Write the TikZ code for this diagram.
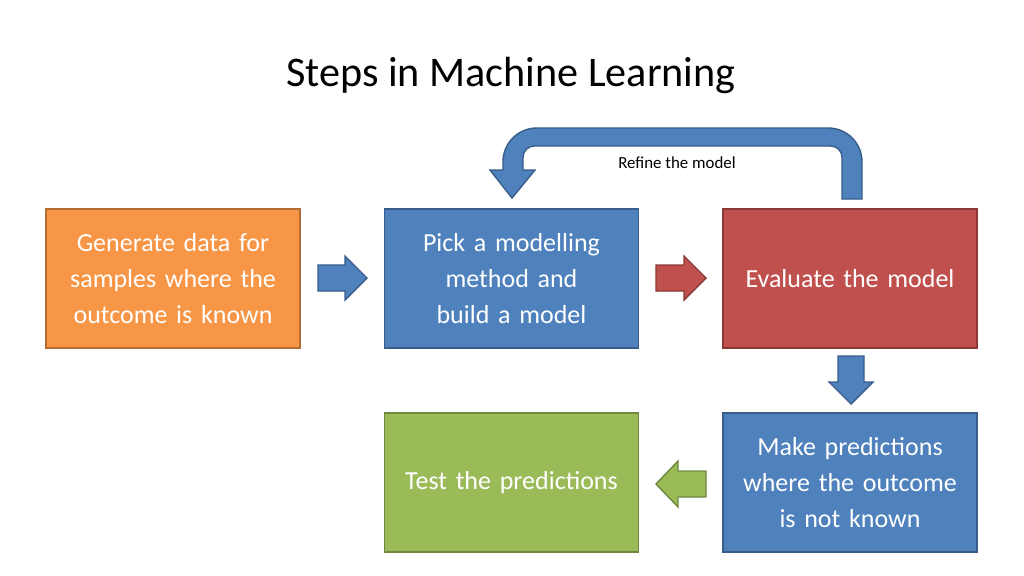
\documentclass[tikz,border=0pt]{standalone}
\usepackage{fontspec}
\setmainfont{Carlito}
\definecolor{bluef}{HTML}{4F81BD}\definecolor{blued}{HTML}{385D8A}
\definecolor{orgf}{HTML}{F79646}\definecolor{orgd}{HTML}{B66D31}
\definecolor{redf}{HTML}{C0504D}\definecolor{redd}{HTML}{8C3836}
\definecolor{grnf}{HTML}{9BBB59}\definecolor{grnd}{HTML}{71893F}
\begin{document}
\begin{tikzpicture}[x=0.025cm,y=-0.025cm,
  box/.style={draw=#1d,fill=#1f,line width=1pt,minimum width=254*0.025cm,minimum height=139*0.025cm,
    text width=235*0.025cm,align=center,text=white,font=\fontsize{18.5}{25.6}\selectfont,inner sep=0pt},
  barrow/.style={draw=#1d,fill=#1f,line width=1pt,line join=miter}]
\useasboundingbox[fill=white] (0,0) rectangle (1024,575);
\node[font=\fontsize{30}{36}\selectfont] (title) at (511,75) {Steps in Machine Learning};
\node[box=org] (gen) at (173,278.5) {Generate data for samples where the outcome is known};
\node[box=blue] (pick) at (511.5,278.5) {Pick a modelling method and build a model};
\node[box=red] (eval) at (850,278.5) {Evaluate the model};
\node[box=grn] (test) at (511.5,482.5) {Test the predictions};
\node[box=blue] (pred) at (850,482.5) {Make predictions where the outcome is not known};
% block arrows
\draw[barrow=blue] (318,265)--(345,265)--(345,256)--(367,278)--(345,300)--(345,291)--(318,291)--cycle;
\draw[barrow=red] (656,265)--(684,265)--(684,256)--(706,278)--(684,300)--(684,291)--(656,291)--cycle;
\draw[barrow=blue] (838,356)--(864,356)--(864,382)--(873,382)--(851,404)--(829,382)--(838,382)--cycle;
\draw[barrow=grn] (706,471)--(678,471)--(678,461)--(656,484)--(678,507)--(678,497)--(706,497)--cycle;
% U arrow
\draw[barrow=blue] (842,199) [rounded corners=8] --(842,146)--(523,146)[sharp corners]--(523,170)--(535,170)--(512,198)--(490,170)--(503,170)
  [rounded corners=24]--(503,128)--(862,128)[sharp corners]--(862,199)--cycle;
\node[font=\fontsize{12}{14}\selectfont] (refine) at (677,163) {Refine the model};
\end{tikzpicture}
\end{document}
